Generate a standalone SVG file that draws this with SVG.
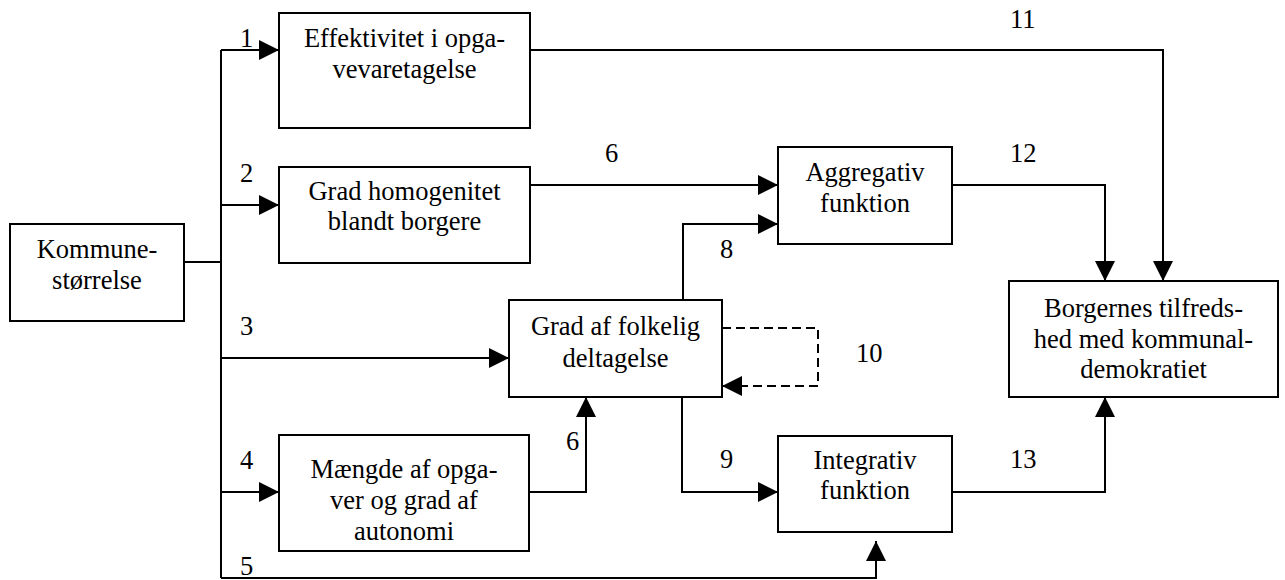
<svg xmlns="http://www.w3.org/2000/svg" width="1285" height="580" viewBox="0 0 1285 580">
<style>
.box{fill:#fff;stroke:#000;stroke-width:2}
.t{font-family:'Liberation Serif','Times New Roman',serif;font-size:26.5px;fill:#000;text-anchor:middle}
.l{font-family:'Liberation Serif','Times New Roman',serif;font-size:26.5px;fill:#000}
.c{fill:none;stroke:#000;stroke-width:2}
.d{fill:none;stroke:#000;stroke-width:2;stroke-dasharray:9 5}
</style>
<defs>
<marker id="ah" viewBox="0 0 20 20" refX="20" refY="10" markerWidth="20" markerHeight="20" markerUnits="userSpaceOnUse" orient="auto">
<path d="M0,0 L20,10 L0,20 z" fill="#000"/>
</marker>
</defs>
<g id="connectors">
<path class="c" d="M184,262 H221"/>
<path class="c" d="M221,50 V578"/>
<path class="c" d="M221,50 H279" marker-end="url(#ah)"/>
<path class="c" d="M221,205 H279" marker-end="url(#ah)"/>
<path class="c" d="M221,358 H509" marker-end="url(#ah)"/>
<path class="c" d="M221,492 H279" marker-end="url(#ah)"/>
<path class="c" d="M221,578 H876 V541" marker-end="url(#ah)"/>
<path class="c" d="M530,185 H778" marker-end="url(#ah)"/>
<path class="c" d="M683,300 V224 H778" marker-end="url(#ah)"/>
<path class="c" d="M529,492 H586 V397" marker-end="url(#ah)"/>
<path class="c" d="M682,397 V492 H778" marker-end="url(#ah)"/>
<path class="d" d="M722,328 H818 V386 H742"/>
<path class="c" d="M742,386 H722" marker-end="url(#ah)"/>
<path class="c" d="M530,50 H1163 V281" marker-end="url(#ah)"/>
<path class="c" d="M952,185 H1105 V281" marker-end="url(#ah)"/>
<path class="c" d="M952,492 H1105 V397" marker-end="url(#ah)"/>
<text class="l" x="240" y="47">1</text>
<text class="l" x="240" y="182">2</text>
<text class="l" x="240" y="335">3</text>
<text class="l" x="240" y="469">4</text>
<text class="l" x="240" y="575">5</text>
<text class="l" x="605" y="162">6</text>
<text class="l" x="566" y="450">6</text>
<text class="l" x="720" y="258">8</text>
<text class="l" x="720" y="468">9</text>
<text class="l" x="856" y="362">10</text>
<text class="l" x="1010" y="28">11</text>
<text class="l" x="1010" y="162">12</text>
<text class="l" x="1010" y="468">13</text>
</g>
<g id="kommune">
<rect class="box" x="10" y="224" width="174" height="97"/>
<text class="t" x="97" y="258">Kommune-</text>
<text class="t" x="97" y="289">størrelse</text>
</g>
<g id="effektivitet">
<rect class="box" x="279" y="13" width="251" height="115"/>
<text class="t" x="404.5" y="47">Effektivitet i opga-</text>
<text class="t" x="404.5" y="78">vevaretagelse</text>
</g>
<g id="homogenitet">
<rect class="box" x="279" y="167" width="251" height="96"/>
<text class="t" x="404.5" y="200">Grad homogenitet</text>
<text class="t" x="404.5" y="230">blandt borgere</text>
</g>
<g id="aggregativ">
<rect class="box" x="778" y="147" width="174" height="97"/>
<text class="t" x="865" y="181">Aggregativ</text>
<text class="t" x="865" y="212">funktion</text>
</g>
<g id="folkelig">
<rect class="box" x="509" y="300" width="213" height="97"/>
<text class="t" x="615.5" y="335">Grad af folkelig</text>
<text class="t" x="615.5" y="367">deltagelse</text>
</g>
<g id="maengde">
<rect class="box" x="279" y="435" width="250" height="116"/>
<text class="t" x="404" y="478">Mængde af opga-</text>
<text class="t" x="404" y="509">ver og grad af</text>
<text class="t" x="404" y="540">autonomi</text>
</g>
<g id="integrativ">
<rect class="box" x="778" y="436" width="174" height="96"/>
<text class="t" x="865" y="469">Integrativ</text>
<text class="t" x="865" y="499">funktion</text>
</g>
<g id="borgernes">
<rect class="box" x="1009" y="281" width="269" height="116"/>
<text class="t" x="1143.5" y="317">Borgernes tilfreds-</text>
<text class="t" x="1143.5" y="348">hed med kommunal-</text>
<text class="t" x="1143.5" y="378">demokratiet</text>
</g>
</svg>
